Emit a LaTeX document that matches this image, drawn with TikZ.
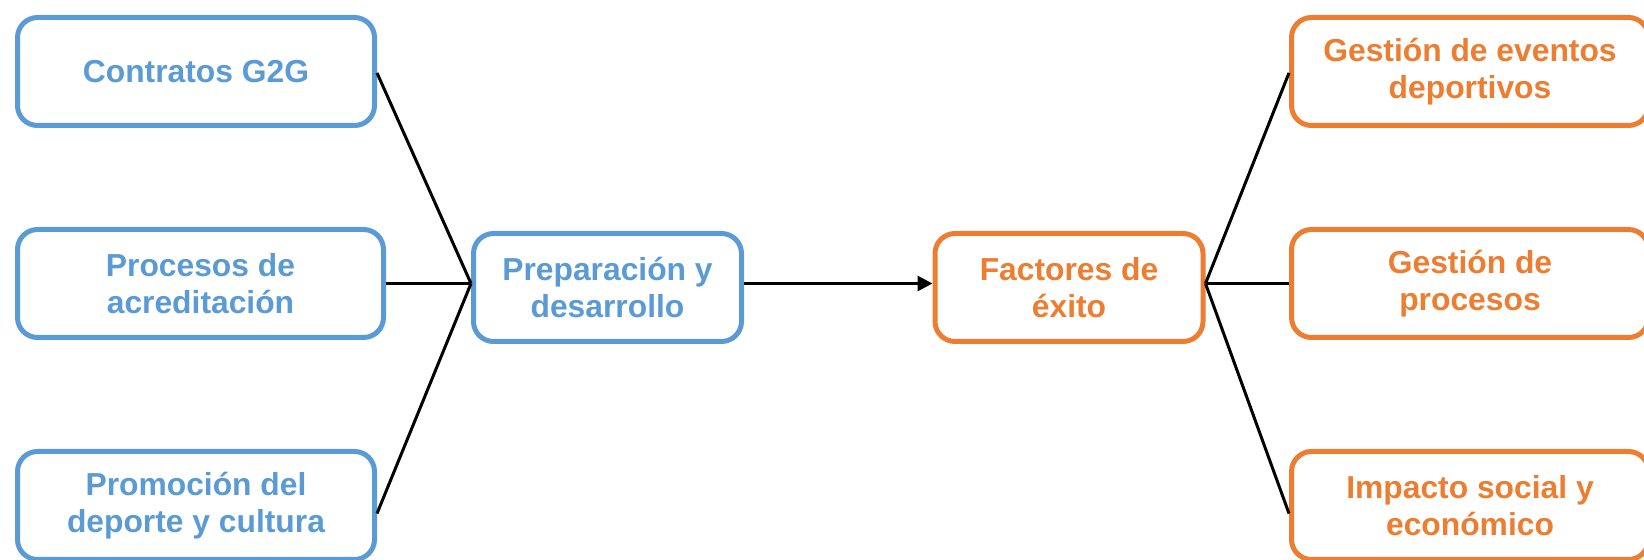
\documentclass[tikz,border=0pt]{standalone}
\usepackage{fontspec}
\setmainfont{Liberation Sans}
\usetikzlibrary{arrows.meta}
\definecolor{blau}{RGB}{91,155,213}
\definecolor{orange}{RGB}{237,125,49}

\begin{document}
\begin{tikzpicture}[x=0.5pt,y=-0.5pt,
	box/.style={draw, fill=white, rounded corners=10pt, line width=2.5pt, align=center, inner sep=0pt, minimum height=54pt, font=\bfseries\fontsize{15.9pt}{18.3pt}\selectfont},
	links/.style={box, draw=blau, text=blau},
	rechts/.style={box, draw=orange, text=orange},
	verb/.style={black, line width=1.5pt}]
	\useasboundingbox (0,0) rectangle (1644,560);
	\clip (0,0) rectangle (1644,560);
		\node[links, minimum width=178.5pt] (L1) at (196,71.5) {Contratos G2G};
		\node[links, minimum width=183pt] (L2) at (200.5,283.5) {Procesos de\\acreditación};
		\node[links, minimum width=178.5pt] (L3) at (196,505.5) {Promoción del\\deporte y cultura};
		\node[links, minimum width=134pt] (M1) at (607.5,287.5) {Preparación y\\desarrollo};
		\node[rechts, minimum width=134pt] (M2) at (1069,287.5) {Factores de\\éxito};
		\node[rechts, minimum width=178.5pt] (R1) at (1470,71.5) {Gestión de eventos\\deportivos};
		\node[rechts, minimum width=178.5pt] (R2) at (1470,283.5) {Gestión de\\procesos};
		\node[rechts, minimum width=178.5pt] (R3) at (1470,505.5) {Impacto social y\\económico};
		\draw[verb] ([yshift=-0.7pt]L1.east) -- ([yshift=2pt]M1.west);
		\draw[verb] (L2.east) -- ([yshift=2pt]M1.west);
		\draw[verb] ([yshift=-4pt]L3.east) -- ([yshift=2pt]M1.west);
		\draw[verb, -{Triangle[length=7.5pt,width=7.5pt]}] ([yshift=2pt]M1.east) -- ([yshift=2pt]M2.west);
		\draw[verb] ([yshift=2pt]M2.east) -- ([yshift=-0.7pt]R1.west);
		\draw[verb] ([yshift=2pt]M2.east) -- (R2.west);
		\draw[verb] ([yshift=2pt]M2.east) -- ([yshift=-4pt]R3.west);
\end{tikzpicture}
\end{document}
